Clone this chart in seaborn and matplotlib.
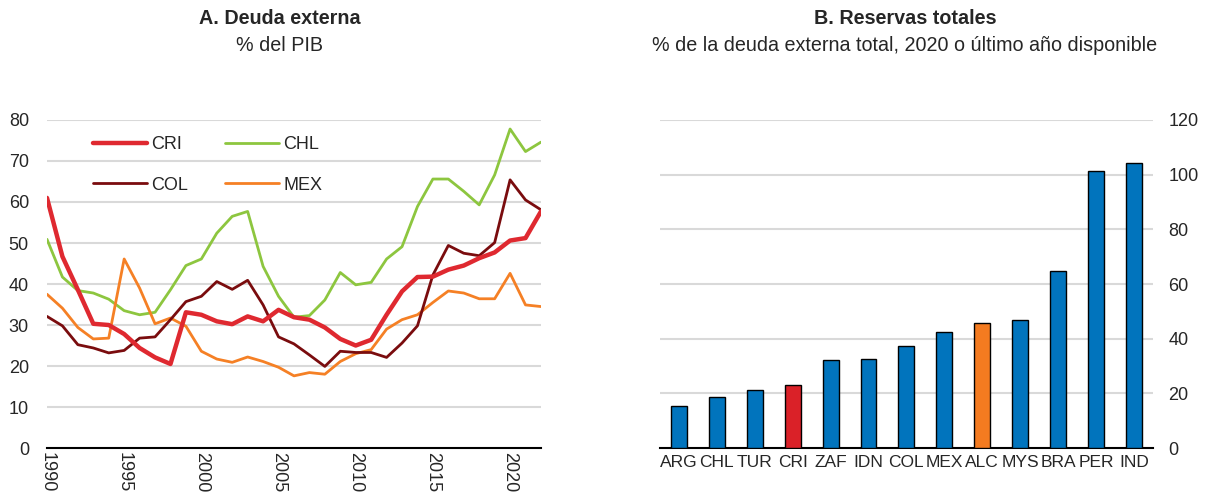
import numpy as np
import pandas as pd
import matplotlib
matplotlib.use("Agg")
import matplotlib.pyplot as plt
import seaborn as sns

# --- data ---
YEARS = list(range(1990, 2023))
CRI = [61.0, 46.7, 38.6, 30.3, 30.0, 27.8, 24.4, 22.1, 20.5, 33.1, 32.5, 30.9, 30.2, 32.1, 30.9, 33.7, 31.9,
       31.3, 29.4, 26.6, 25.0, 26.4, 32.5, 38.2, 41.7, 41.8, 43.5, 44.5, 46.3, 47.7, 50.6, 51.2, 57.7]
CHL = [50.9, 41.7, 38.4, 37.8, 36.3, 33.5, 32.5, 33.1, 38.6, 44.5, 46.1, 52.4, 56.5, 57.7, 44.3, 37.0, 31.9,
       32.3, 36.1, 42.8, 39.8, 40.4, 46.1, 49.1, 58.9, 65.6, 65.6, 62.6, 59.3, 66.6, 77.8, 72.3, 74.6]
COL = [32.1, 29.8, 25.2, 24.4, 23.2, 23.8, 26.8, 27.1, 31.3, 35.7, 37.0, 40.6, 38.7, 40.9, 34.9, 27.1, 25.4,
       22.7, 19.9, 23.6, 23.3, 23.3, 22.1, 25.6, 29.8, 42.2, 49.4, 47.5, 46.9, 50.1, 65.4, 60.5, 58.1]
MEX = [37.5, 34.1, 29.4, 26.6, 26.8, 46.1, 39.0, 30.3, 31.7, 29.7, 23.6, 21.7, 20.9, 22.2, 21.1, 19.7, 17.6,
       18.4, 18.0, 21.1, 23.0, 24.0, 29.0, 31.3, 32.5, 35.5, 38.3, 37.8, 36.4, 36.4, 42.6, 34.9, 34.5]

COUNTRIES = ["ARG", "CHL", "TUR", "CRI", "ZAF", "IDN", "COL", "MEX", "ALC", "MYS", "BRA", "PER", "IND"]
RESERVES = [15.5, 18.8, 21.3, 23.0, 32.2, 32.4, 37.5, 42.4, 45.8, 47.0, 64.6, 101.5, 104.4]

LINE_COLORS = {"CRI": "#DF2930", "CHL": "#8DC63F", "COL": "#7A0C0E", "MEX": "#F58025"}
LINE_WIDTHS = {"CRI": 3.2, "CHL": 2.0, "COL": 2.0, "MEX": 2.0}
BLUE, RED, ORANGE = "#0174BD", "#DA2128", "#F47B20"
GRID = "#D9D9D9"

sns.set_style("white")
plt.rcParams["font.family"] = ["Liberation Sans", "DejaVu Sans"]
plt.rcParams["font.size"] = 13

fig = plt.figure(figsize=(12.11, 4.95), dpi=100)
ax1 = fig.add_axes([0.0388, 0.0949, 0.4079, 0.6627])
ax2 = fig.add_axes([0.545, 0.0949, 0.407, 0.6627])

# --- panel A: lines ---
df = pd.DataFrame({"year": YEARS, "CRI": CRI, "CHL": CHL, "COL": COL, "MEX": MEX})
long = df.melt(id_vars="year", var_name="pais", value_name="valor")
for name in ["CHL", "MEX", "COL", "CRI"]:
    sns.lineplot(data=long[long.pais == name], x="year", y="valor", color=LINE_COLORS[name],
                 lw=LINE_WIDTHS[name], ax=ax1, label=name)

ax1.set_xlim(1990, 2022)
ax1.set_ylim(0, 80)
ax1.set_yticks(range(0, 81, 10))
ax1.set_xticks(range(1990, 2023, 5))
ax1.set_xticks(YEARS, minor=True)
ax1.set_xticklabels([str(y) for y in range(1990, 2023, 5)], rotation=-90, ha="center", va="top")
ax1.tick_params(axis="x", which="both", direction="in", length=7, width=1.2, color="black", pad=3)
ax1.tick_params(axis="y", length=0, pad=13)
for y in range(10, 81, 10):
    ax1.axhline(y, color=GRID, lw=1.5, zorder=0)
for s in ["top", "right", "left"]:
    ax1.spines[s].set_visible(False)
ax1.spines["bottom"].set_color("black")
ax1.spines["bottom"].set_linewidth(1.5)
ax1.set_xlabel("")
ax1.set_ylabel("")

# legend fills column-first: CRI/COL in column 1, CHL/MEX in column 2
h, l = ax1.get_legend_handles_labels()
order = [l.index(n) for n in ["CRI", "COL", "CHL", "MEX"]]
ax1.legend([h[i] for i in order], [l[i] for i in order], ncol=2, frameon=False,
           loc="upper left", bbox_to_anchor=(0.06, 1.0), handlelength=3.0,
           columnspacing=2.0, labelspacing=1.3, handletextpad=0.25, fontsize=13)

# --- panel B: bars ---
bar_colors = {c: BLUE for c in COUNTRIES}
bar_colors["CRI"] = RED
bar_colors["ALC"] = ORANGE
bdf = pd.DataFrame({"pais": COUNTRIES, "reservas": RESERVES})
sns.barplot(data=bdf, x="pais", y="reservas", hue="pais", palette=bar_colors, legend=False,
            width=0.42, saturation=1, edgecolor="black", linewidth=1.0, ax=ax2, zorder=3)

ax2.set_xlim(-0.5, len(COUNTRIES) - 0.5)
ax2.set_ylim(0, 120)
ax2.set_yticks(range(0, 121, 20))
ax2.yaxis.tick_right()
ax2.tick_params(axis="y", length=0, pad=11)
ax2.set_xticks(np.arange(-0.5, len(COUNTRIES), 1.0), minor=True)
ax2.tick_params(axis="x", which="major", length=0, pad=5, labelsize=12.5)
ax2.tick_params(axis="x", which="minor", direction="in", length=7, width=1.2, color="black")
for y in range(20, 121, 20):
    ax2.axhline(y, color=GRID, lw=1.5, zorder=0)
for s in ["top", "right", "left"]:
    ax2.spines[s].set_visible(False)
ax2.spines["bottom"].set_color("black")
ax2.spines["bottom"].set_linewidth(1.5)
ax2.set_xlabel("")
ax2.set_ylabel("")

# --- titles ---
fig.text(0.2312, 0.962, "A. Deuda externa", ha="center", va="center", fontweight="bold", fontsize=14.2)
fig.text(0.2312, 0.908, "% del PIB", ha="center", va="center", fontsize=14.2)
fig.text(0.7473, 0.962, "B. Reservas totales", ha="center", va="center", fontweight="bold", fontsize=14.2)
fig.text(0.7473, 0.908, "% de la deuda externa total, 2020 o último año disponible", ha="center",
         va="center", fontsize=14.2)

fig.savefig("out.png", dpi=100)
